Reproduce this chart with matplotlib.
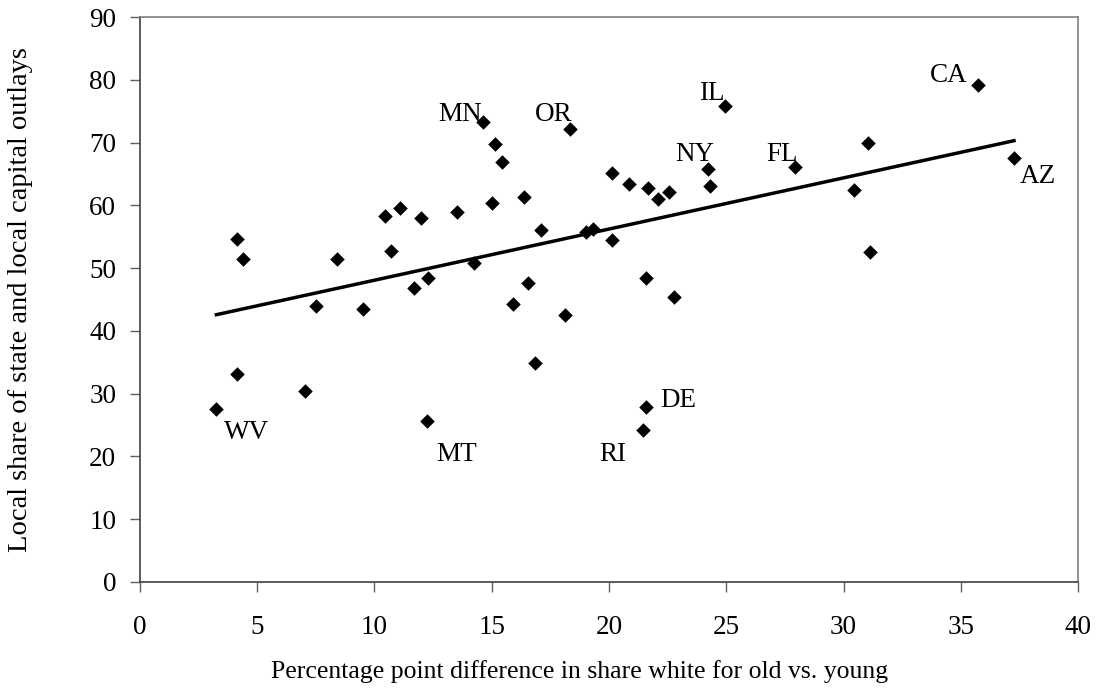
import numpy as np
import matplotlib.pyplot as plt

plt.rcParams['font.family'] = ['Liberation Serif', 'DejaVu Serif']

# percentage point difference in share white, old vs. young
x = [14.61, 15.14, 15.44, 18.34, 4.15, 4.41, 8.39, 10.45, 11.10, 11.98,
     10.72, 13.50, 15.02, 16.39, 17.11, 14.23, 11.67, 12.30, 16.55, 15.92,
     7.51, 9.51, 24.95, 35.75, 31.03, 37.27, 27.92, 24.24, 24.32, 20.14,
     20.87, 21.66, 22.54, 22.08, 30.45, 19.0, 19.3, 20.14, 31.12, 21.59,
     22.78, 3.26, 4.14, 7.02, 12.22, 16.86, 18.14, 21.59, 21.44]
# local share of state and local capital outlays
y = [73.2, 69.7, 66.9, 72.1, 54.7, 51.5, 51.4, 58.3, 59.5, 58.0,
     52.7, 58.9, 60.4, 61.3, 56.0, 50.8, 46.9, 48.5, 47.6, 44.3,
     44.0, 43.5, 75.9, 79.2, 70.0, 67.6, 66.1, 65.8, 63.1, 65.2,
     63.4, 62.8, 62.2, 61.0, 62.5, 55.8, 56.2, 54.5, 52.6, 48.4,
     45.4, 27.5, 33.1, 30.5, 25.7, 34.9, 42.5, 27.8, 24.2]

# labelled states: index into x/y
states = ['MN', 'OR', 'IL', 'CA', 'NY', 'FL', 'AZ', 'WV', 'MT', 'DE', 'RI']
state_idx = [0, 3, 22, 23, 27, 26, 25, 41, 44, 47, 48]
# label offsets (pixels) from the marker, text baseline-aligned
offsets = [(-1, 1), (2, 8), (-1, 6), (-11, 3), (6, 8), (3, 6), (6, -25),
           (8, -30), (10, -40), (14, 0), (-16, -31)]
halign = ['right', 'right', 'right', 'right', 'right', 'right',
          'left', 'left', 'left', 'left', 'right']

fig = plt.figure(figsize=(10.97, 6.89), dpi=100)
ax = fig.add_axes([0.1276, 0.1553, 0.8551, 0.8200])

ax.scatter(x, y, marker='D', s=55, color='black', zorder=3, linewidths=0)

# linear trend
k, b = np.polyfit(x, y, 1)
xt = np.array([min(x), max(x)])
ax.plot(xt, k * xt + b, color='black', lw=2.5, zorder=2)

for name, i, off, ha in zip(states, state_idx, offsets, halign):
    ax.annotate(name, (x[i], y[i]), xytext=off, textcoords='offset pixels',
                ha=ha, va='baseline', fontsize=19.5)

ax.set_xlim(0, 40)
ax.set_ylim(0, 90)
ax.set_xticks(range(0, 41, 5))
ax.set_yticks(range(0, 91, 10))
ax.tick_params(direction='out', length=7, width=1, labelsize=19.5, color='#606060')
ax.tick_params(axis='x', pad=17)
ax.tick_params(axis='y', pad=10)
ax.set_xlabel('Percentage point difference in share white for old vs. young', fontsize=18.5)
ax.set_ylabel('Local share of state and local capital outlays', fontsize=20.5)
ax.xaxis.set_label_coords(0.4686, -0.138)
ax.yaxis.set_label_coords(-0.114, 0.5)

for s in ['top', 'right']:
    ax.spines[s].set_color('#808080')
for s in ['left', 'bottom']:
    ax.spines[s].set_color('#404040')
for s in ax.spines.values():
    s.set_linewidth(1.2)

plt.savefig('out.png', dpi=100)
